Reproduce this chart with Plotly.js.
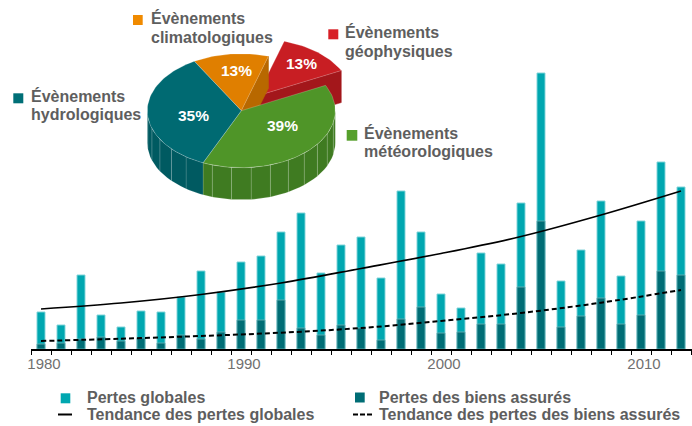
<!DOCTYPE html>
<html>
<head>
<meta charset="utf-8">
<script src="https://cdn.plot.ly/plotly-3.0.1.min.js"></script>
<style>html,body{margin:0;padding:0;background:#fff;}#chart{width:692px;height:426px;}</style>
</head>
<body>
<div id="chart"></div>
<script>
// ---------- DATA ----------
const years = [1980,1981,1982,1983,1984,1985,1986,1987,1988,1989,1990,1991,1992,1993,1994,1995,1996,1997,1998,1999,2000,2001,2002,2003,2004,2005,2006,2007,2008,2009,2010,2011,2012];
const globalLosses  = [37,24,74,34,22,38,37,52,78,57,87,93,117,136,76,104,112,71,158,117,55,41,96,85,146,276,68,99,148,73,128,187,162];
const insuredLosses = [5,6,10,12,8,11,6,14,10,17,29,29,49,21,14,24,21,9,30,42,16,17,25,25,62,128,22,33,51,25,34,78,74];
const trendYears = [1980,1984,1988,1992,1996,2000,2004,2008,2012];
const globalTrend  = [40,46,54.5,66,80.5,95.5,112.5,134,158];
const insuredTrend = [8,10.3,13,16.3,21,28,36,46.3,59];
const tickYears = [1980,1990,2000,2010];
const tickLabels = ['1980','1990','2000','2010'];
const seriesNames = ['Pertes globales','Pertes des biens assurés','Tendance des pertes globales','Tendance des pertes des biens assurés'];

const pieNames  = ['Évènements climatologiques','Évènements géophysiques','Évènements météorologiques','Évènements hydrologiques'];
const pieShares = [13,13,39,35];
const pieTexts  = ['13%','13%','39%','35%'];

// ---------- STYLE ----------
const FONT = 'Liberation Sans, Arial, Helvetica, sans-serif';
const cGlobal = '#00a7b0', cInsured = '#006d75';
const pieTop  = ['#e07f00','#c81e23','#4f9528','#006a72'];
const pieWall = ['#b86800','#a3171b','#3f7b21','#005a61'];
const pieLegendColors = ['#f08a00','#d71f26','#56a02c','#006f77'];
const W = 692, H = 426;
const px = x => x / W, py = y => 1 - y / H;

// ---------- MAIN TRACES ----------
const traces = [
  {type:'bar', x:years, y:globalLosses, name:seriesNames[0], width:0.4,
   marker:{color:cGlobal, line:{color:'rgba(130,212,218,0.95)', width:1}}, hoverinfo:'x+y'},
  {type:'bar', x:years, y:insuredLosses, name:seriesNames[1], width:0.4,
   marker:{color:cInsured, line:{color:'rgba(100,175,180,0.9)', width:1}}, hoverinfo:'x+y'},
  {type:'scatter', mode:'lines', x:trendYears, y:globalTrend, name:seriesNames[2],
   line:{color:'#000', width:1.7, shape:'spline'}},
  {type:'scatter', mode:'lines', x:trendYears, y:insuredTrend, name:seriesNames[3],
   line:{color:'#000', width:2, dash:'5px,3px', shape:'spline'}}
];

// ---------- 3D PIE (drawn on x2/y2 in page-pixel units) ----------
const cx = 241.3, cy = 110.7, ra = 94, rb = 57, hh = 32;
const startAngle = 120;
const pullIndex = 1, pullX = 0.26, pullY = 0.34;
const rad = d => d * Math.PI / 180;
function P(t, dx, dy, down){ return [cx + ra*Math.cos(rad(t)) + dx, cy - rb*Math.sin(rad(t)) + dy + down]; }
function poly(pts, fill, lineColor, lw){
  return {type:'scatter', mode:'lines', xaxis:'x2', yaxis:'y2', fill:'toself', fillcolor:fill,
    x:pts.map(p=>p[0]), y:pts.map(p=>p[1]), line:{color:lineColor||fill, width:lw===undefined?0.5:lw},
    hoverinfo:'skip', showlegend:false};
}
function arc(t1, t2, dx, dy, down){ const n = Math.max(2, Math.ceil(Math.abs(t1-t2)/2)); const out=[]; for(let i=0;i<=n;i++){ out.push(P(t1+(t2-t1)*i/n, dx, dy, down)); } return out; }

const slices = []; let acc = 0;
pieShares.forEach((s,i)=>{
  const t1 = startAngle - acc*3.6, t2 = startAngle - (acc+s)*3.6; acc += s;
  const mid = (t1+t2)/2;
  const dx = i===pullIndex ? pullX*ra*Math.cos(rad(mid)) : 0;
  const dy = i===pullIndex ? -pullY*rb*Math.sin(rad(mid)) : 0;
  slices.push({t1,t2,dx,dy,i});
});
const pieTraces = [];
// exploded slice: cut face + top
slices.filter(s=>s.i===pullIndex).forEach(s=>{
  const a = [cx+s.dx, cy+s.dy];
  const e = P(s.t2, s.dx, s.dy, 0), eb = P(s.t2, s.dx, s.dy, hh);
  pieTraces.push(poly([a, e, eb, [a[0], a[1]+hh], a], pieWall[s.i]));
  pieTraces.push(poly([a].concat(arc(s.t1, s.t2, s.dx, s.dy, 0)).concat([a]), pieTop[s.i], 'rgba(255,255,255,0.35)', 0.6));
});
// cut face of slice preceding the exploded one (visible because of the gap)
{
  const s = slices[pullIndex-1];
  const e = P(s.t2,0,0,0), eb = P(s.t2,0,0,hh);
  pieTraces.push(poly([[cx,cy], e, eb, [cx,cy+hh], [cx,cy]], pieWall[s.i]));
}
// front outer walls
slices.filter(s=>s.i!==pullIndex).forEach(s=>{
  const lo = s.t2, hi = s.t1;
  [[-180,0],[-540,-360]].forEach(([A,B])=>{
    const a1 = Math.max(lo, A), a2 = Math.min(hi, B);
    if (a2 > a1){
      const step = 12;
      for (let t = a2; t > a1; t -= step){
        const u = Math.max(a1, t-step);
        const top = arc(t, u, 0, 0, 0), bot = arc(u, t, 0, 0, hh);
        pieTraces.push(poly(top.concat(bot).concat([top[0]]), pieWall[s.i], 'rgba(255,255,255,0.22)', 0.6));
      }
    }
  });
});
// top faces
slices.filter(s=>s.i!==pullIndex).forEach(s=>{
  const c = [cx, cy];
  pieTraces.push(poly([c].concat(arc(s.t1, s.t2, 0, 0, 0)).concat([c]), pieTop[s.i], 'rgba(255,255,255,0.35)', 0.6));
});

// ---------- ANNOTATIONS / SHAPES ----------
const ann = [], shapes = [];
function txt(x, y, t, opts){
  ann.push(Object.assign({xref:'paper', yref:'paper', x:px(x), y:py(y), text:t, showarrow:false,
    xanchor:'left', yanchor:'middle', font:{family:FONT, size:16, color:'#5e5e5e', weight:'bold'}}, opts||{}));
}
function sq(x0, y0, x1, y1, color){
  shapes.push({type:'rect', xref:'paper', yref:'paper', x0:px(x0), x1:px(x1), y0:py(y1), y1:py(y0), fillcolor:color, line:{width:0}});
}
// pie category labels
const pieLab = [
  {m:[133,15,142.7,25], tx:149, l1:17.7, l2:37.1},
  {m:[328.3,29.3,338.3,39.3], tx:343, l1:32.1, l2:51.1},
  {m:[346.7,130,357.3,140.7], tx:362, l1:132.7, l2:151.7},
  {m:[13.3,93.3,23.3,103.3], tx:29, l1:96.4, l2:114.6}
];
pieLab.forEach((p,i)=>{
  sq(p.m[0],p.m[1],p.m[2],p.m[3], pieLegendColors[i]);
  const parts = pieNames[i].split(' ');
  txt(p.tx, p.l1, parts[0]); txt(p.tx, p.l2, parts.slice(1).join(' '));
});
// percentage labels
const pctPos = [[236.7,71],[301.7,63.5],[282.7,125.3],[193.3,115.3]];
pieTexts.forEach((t,i)=>{
  txt(pctPos[i][0], pctPos[i][1], t, {xanchor:'center', font:{family:FONT, size:15.5, color:'#ffffff', weight:'bold'}});
});
// bottom legend
sq(60.7,393.3,70.3,403.3,cGlobal);
sq(355,392.5,364.7,402.5,cInsured);
txt(85, 397.5, seriesNames[0]);
txt(376.5, 397.5, seriesNames[1]);
txt(85, 414.5, seriesNames[2]);
txt(376.5, 414.5, seriesNames[3]);
shapes.push({type:'line', xref:'paper', yref:'paper', x0:px(58), x1:px(72), y0:py(414.5), y1:py(414.5), line:{color:'#000', width:2}});
shapes.push({type:'line', xref:'paper', yref:'paper', x0:px(353), x1:px(372.5), y0:py(414.5), y1:py(414.5), line:{color:'#000', width:2, dash:'5px,2px'}});

const layout = {
  width:W, height:H, margin:{l:0,r:0,t:0,b:0},
  paper_bgcolor:'#ffffff', plot_bgcolor:'rgba(0,0,0,0)',
  barmode:'overlay', showlegend:false, hovermode:false,
  xaxis:{domain:[31/W,1], range:[1979.5,2012.55], showline:true, linecolor:'#000', linewidth:1.5,
    ticks:'', tickvals:tickYears, ticktext:tickLabels, ticklabelshift:3, ticklabelstandoff:0,
    tickfont:{family:FONT, size:15, color:'#707070'}, showgrid:false, zeroline:false,
    minor:{tick0:1979.5, dtick:1, ticks:'outside', ticklen:4, tickcolor:'#000', tickwidth:1, showgrid:false},
    fixedrange:true},
  yaxis:{domain:[77/H,1], range:[0,349], visible:false, fixedrange:true},
  xaxis2:{domain:[0,1], range:[0,W], visible:false, anchor:'y2', fixedrange:true},
  yaxis2:{domain:[0,1], range:[H,0], visible:false, anchor:'x2', fixedrange:true},
  annotations:ann, shapes:shapes
};

Plotly.newPlot('chart', traces.concat(pieTraces), layout, {displayModeBar:false, staticPlot:true});
</script>
</body>
</html>
